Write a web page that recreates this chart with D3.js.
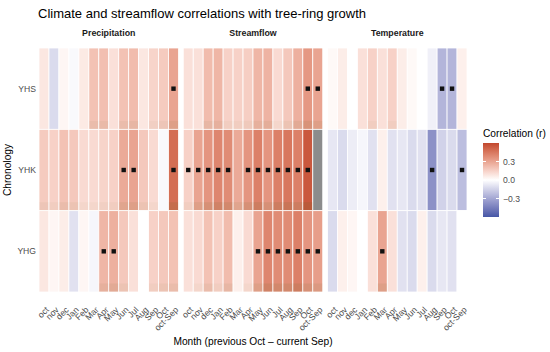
<!DOCTYPE html>
<html lang="en">
<head>
<meta charset="UTF-8">
<title>Climate and streamflow correlations with tree-ring growth</title>
<script src="https://d3js.org/d3.v7.min.js"></script>
<style>
  body { margin: 0; background: #fff; }
  svg { display: block; font-family: "Liberation Sans", Arial, sans-serif; }
  .tick-x { font-size: 8.6px; fill: #4d4d4d; }
  .tick-y { font-size: 8.6px; fill: #4d4d4d; }
  .strip { font-size: 8.8px; font-weight: bold; fill: #1a1a1a; }
  .axis-title { font-size: 10.2px; fill: #000; }
</style>
</head>
<body>
<script>
// categories
const months = ["oct", "nov", "dec", "Jan", "Feb", "Mar", "Apr", "May", "Jun", "Jul", "Aug", "Sep", "Oct", "oct-Sep"];
const chronologies = ["YHS", "YHK", "YHG"];
const variables = ["Precipitation", "Streamflow", "Temperature"];
const legendTicks = [0.3, 0.0, -0.3];

// correlation values (one per month)
const precipYHS = [0.08, -0.12, 0.03, -0.02, 0.07, 0.2, 0.21, 0.1, 0.2, 0.22, 0.08, 0.14, 0.17, 0.3];
const precipYHK = [0.17, 0.15, 0.2, 0.18, 0.12, 0.12, 0.14, 0.15, 0.28, 0.3, 0.18, 0.12, -0.02, 0.48];
const precipYHG = [0.08, 0.03, 0.06, -0.1, 0.03, -0.03, 0.24, 0.26, 0.18, 0.1, 0.0, 0.15, 0.18, 0.2];

const streamYHS = [0.1, 0.1, 0.22, 0.24, 0.15, 0.15, 0.16, 0.24, 0.25, 0.12, 0.18, 0.26, 0.34, 0.3];
const streamYHK = [0.15, 0.3, 0.35, 0.4, 0.38, 0.28, 0.35, 0.42, 0.35, 0.42, 0.45, 0.42, 0.55, null];
const streamYHG = [0.1, 0.12, 0.2, 0.15, 0.22, 0.05, 0.12, 0.3, 0.4, 0.38, 0.38, 0.42, 0.35, 0.32];

const tempYHS = [0.02, 0.06, 0.0, 0.1, 0.15, 0.1, 0.15, 0.06, 0.02, 0.0, -0.05, -0.25, -0.25, 0.05];
const tempYHK = [-0.08, -0.12, -0.06, -0.03, -0.1, 0.05, -0.1, -0.08, -0.12, -0.1, -0.38, -0.15, -0.12, -0.22];
const tempYHG = [-0.12, 0.05, 0.03, 0.0, 0.1, 0.3, 0.1, -0.1, -0.12, 0.05, -0.12, -0.08, -0.1, 0.0];

// significant months (black squares)
const sigPrecipYHS = ["oct-Sep"];
const sigPrecipYHK = ["Jun", "Jul", "oct-Sep"];
const sigPrecipYHG = ["Apr", "May"];
const sigStreamYHS = ["Oct", "oct-Sep"];
const sigStreamYHK = ["oct", "nov", "dec", "Jan", "Feb", "Apr", "May", "Jun", "Jul", "Aug", "Sep", "Oct"];
const sigStreamYHG = ["May", "Jun", "Jul", "Aug", "Sep", "Oct", "oct-Sep"];
const sigTempYHS = ["Sep", "Oct"];
const sigTempYHK = ["Aug", "oct-Sep"];
const sigTempYHG = ["Mar"];

const series = {
  Precipitation: { YHS: [precipYHS, sigPrecipYHS], YHK: [precipYHK, sigPrecipYHK], YHG: [precipYHG, sigPrecipYHG] },
  Streamflow:    { YHS: [streamYHS, sigStreamYHS], YHK: [streamYHK, sigStreamYHK], YHG: [streamYHG, sigStreamYHG] },
  Temperature:   { YHS: [tempYHS, sigTempYHS],     YHK: [tempYHK, sigTempYHK],     YHG: [tempYHG, sigTempYHG] }
};

// long table for the tiles
const cells = [];
variables.forEach(v => chronologies.forEach(c => {
  const [vals, sig] = series[v][c];
  months.forEach((m, i) => cells.push({ variable: v, chron: c, month: m, r: vals[i], sig: sig.includes(m) }));
}));

const width = 550, height = 352;
const svg = d3.select("body").append("svg").attr("width", width).attr("height", height);

const panelX = d3.scaleBand().domain(variables).range([39, 467]).paddingInner(0.033);
const x = d3.scaleBand().domain(months).range([0, panelX.bandwidth()]);
const y = d3.scaleBand().domain(chronologies).range([48, 292]);

const color = d3.scaleLinear()
  .domain([-0.6, 0, 0.6])
  .range(["#4657a6", "#ffffff", "#c2472e"])
  .interpolate(d3.interpolateLab)
  .clamp(true);

// title
svg.append("text").attr("x", 38).attr("y", 18)
  .style("font-size", "13px").attr("fill", "#000")
  .text("Climate and streamflow correlations with tree-ring growth");

const panels = svg.selectAll(".panel").data(variables).enter().append("g")
  .attr("class", "panel")
  .attr("transform", d => `translate(${panelX(d)},0)`);

panels.append("text").attr("class", "strip")
  .attr("x", panelX.bandwidth() / 2).attr("y", 36)
  .attr("text-anchor", "middle")
  .text(d => d);

panels.each(function(v) {
  const g = d3.select(this);
  const data = cells.filter(d => d.variable === v);

  g.selectAll("rect.tile").data(data).enter().append("rect")
    .attr("class", "tile")
    .attr("x", d => x(d.month)).attr("y", d => y(d.chron))
    .attr("width", x.bandwidth()).attr("height", y.bandwidth())
    .attr("fill", d => d.r == null ? "#8c8c8c" : color(d.r))
    .attr("stroke", "#fff").attr("stroke-width", 0.8);

  // faint darker band at the bottom of the red tiles, as in the reference rendering
  g.selectAll("rect.shade").data(data.filter(d => d.r != null && d.r > 0.1)).enter().append("rect")
    .attr("class", "shade")
    .attr("x", d => x(d.month) + 0.4).attr("y", d => y(d.chron) + y.bandwidth() - 8.5)
    .attr("width", x.bandwidth() - 0.8).attr("height", 8.1)
    .attr("fill", "#6b6a2a")
    .attr("opacity", d => 0.18 * d.r / 0.6);

  g.selectAll("rect.sig").data(data.filter(d => d.sig)).enter().append("rect")
    .attr("class", "sig")
    .attr("x", d => x(d.month) + x.bandwidth() / 2 - 2.2)
    .attr("y", d => y(d.chron) + y.bandwidth() / 2 - 2.2)
    .attr("width", 4.4).attr("height", 4.4)
    .attr("fill", "#111");

  g.selectAll("text.tick-x").data(months).enter().append("text")
    .attr("class", "tick-x")
    .attr("transform", d => `translate(${x(d) + x.bandwidth() / 2 + 1},306) rotate(-45)`)
    .attr("text-anchor", "end")
    .attr("dy", "0.72em")
    .text(d => d);
});

// y axis labels
svg.selectAll("text.tick-y").data(chronologies).enter().append("text")
  .attr("class", "tick-y")
  .attr("x", 36).attr("y", d => y(d) + y.bandwidth() / 2)
  .attr("dy", "0.35em").attr("text-anchor", "end")
  .text(d => d);

svg.append("text").attr("class", "axis-title")
  .attr("transform", `translate(11,${(y.range()[0] + y.range()[1]) / 2}) rotate(-90)`)
  .attr("text-anchor", "middle")
  .text("Chronology");

svg.append("text").attr("class", "axis-title")
  .attr("x", (panelX.range()[0] + panelX.range()[1]) / 2).attr("y", 345)
  .attr("text-anchor", "middle")
  .text("Month (previous Oct \u2013 current Sep)");

// legend
const lg = svg.append("g").attr("transform", "translate(483,0)");
lg.append("text").attr("class", "axis-title").attr("x", 0).attr("y", 137).text("Correlation (r)");

const ly = d3.scaleLinear().domain([0.6, -0.6]).range([143, 217]);
const grad = svg.append("defs").append("linearGradient")
  .attr("id", "corrGrad").attr("x1", 0).attr("x2", 0).attr("y1", 0).attr("y2", 1);
d3.range(0, 1.0001, 0.05).forEach(t => {
  grad.append("stop").attr("offset", t).attr("stop-color", color(0.6 - 1.2 * t));
});
lg.append("rect").attr("x", 0).attr("y", ly(0.6))
  .attr("width", 16).attr("height", ly(-0.6) - ly(0.6))
  .attr("fill", "url(#corrGrad)");

lg.selectAll("g.lt").data(legendTicks).enter().append("g").attr("class", "lt").each(function(t) {
  const gg = d3.select(this);
  gg.append("line").attr("x1", 0).attr("x2", 3).attr("y1", ly(t)).attr("y2", ly(t)).attr("stroke", "#fff");
  gg.append("line").attr("x1", 13).attr("x2", 16).attr("y1", ly(t)).attr("y2", ly(t)).attr("stroke", "#fff");
});

lg.selectAll("text.lbl").data(legendTicks).enter().append("text")
  .attr("class", "tick-x")
  .attr("x", 20).attr("y", d => ly(d)).attr("dy", "0.35em")
  .text(d => d === 0 ? "0.0" : d3.format(".1f")(d).replace("-", "\u2212"));
</script>
</body>
</html>
